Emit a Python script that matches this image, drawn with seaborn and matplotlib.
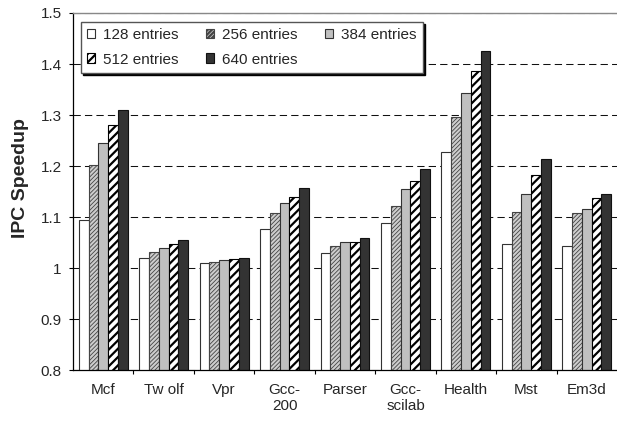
import matplotlib
matplotlib.use("Agg")
import matplotlib.pyplot as plt
from matplotlib.ticker import FixedLocator, FuncFormatter
import pandas as pd
import seaborn as sns

# Benchmarks and IPC speedup per table size
benchmarks = ["Mcf", "Tw olf", "Vpr", "Gcc-\n200", "Parser", "Gcc-\nscilab",
              "Health", "Mst", "Em3d"]
sizes = ["128 entries", "256 entries", "384 entries", "512 entries", "640 entries"]
speedup_128 = [1.095, 1.020, 1.009, 1.076, 1.029, 1.088, 1.227, 1.048, 1.043]
speedup_256 = [1.202, 1.031, 1.012, 1.108, 1.043, 1.122, 1.297, 1.110, 1.107]
speedup_384 = [1.246, 1.040, 1.015, 1.127, 1.051, 1.154, 1.344, 1.146, 1.116]
speedup_512 = [1.280, 1.048, 1.018, 1.140, 1.051, 1.171, 1.386, 1.183, 1.138]
speedup_640 = [1.310, 1.055, 1.020, 1.157, 1.059, 1.194, 1.425, 1.213, 1.146]
y_ticks = [0.8, 0.9, 1.0, 1.1, 1.2, 1.3, 1.4, 1.5]

series = [speedup_128, speedup_256, speedup_384, speedup_512, speedup_640]
rows = []
for size, vals in zip(sizes, series):
    for b, v in zip(benchmarks, vals):
        rows.append({"bench": b, "size": size, "speedup": v})
df = pd.DataFrame(rows)

sns.set_style("white")
plt.rcParams["font.family"] = ["Liberation Sans", "DejaVu Sans"]
plt.rcParams["hatch.linewidth"] = 1.6

face = ["#ffffff", "#cdcdcd", "#c0c0c0", "#ffffff", "#333333"]
edge = ["#333333", "#444444", "#333333", "#000000", "#111111"]
hatch = [None, "////////", None, "////", None]

fig = plt.figure(figsize=(6.17, 4.23), dpi=100)
ax = fig.add_axes([73 / 617, 53 / 423, 544 / 617, 357 / 423])

sns.barplot(data=df, x="bench", y="speedup", hue="size", hue_order=sizes,
            palette=face, width=0.81, saturation=1, legend=False, ax=ax)

for i, cont in enumerate(ax.containers):
    for p in cont.patches:
        p.set_facecolor(face[i])
        p.set_edgecolor(edge[i])
        p.set_linewidth(0.8)
        if hatch[i]:
            p.set_hatch(hatch[i])
            if i == 1 and hasattr(p, "set_hatch_linewidth"):
                p.set_hatch_linewidth(0.6)

ax.set_ylim(0.8, 1.5)
ax.set_xlim(-0.5, len(benchmarks) - 0.5)
ax.yaxis.set_major_locator(FixedLocator(y_ticks))
ax.yaxis.set_major_formatter(FuncFormatter(lambda v, _: f"{v:g}"))
ax.set_axisbelow(True)
ax.grid(axis="y", color="#111111", linewidth=0.75, linestyle=(0, (7, 4)))

ax.set_xlabel("")
ax.set_ylabel("IPC Speedup", fontsize=14, fontweight="bold")
ax.yaxis.set_label_coords(-0.081, 0.538)

ax.tick_params(axis="y", which="major", direction="out", length=3.2, width=0.8,
               pad=5, labelsize=11, left=True, color="black")
ax.tick_params(axis="x", which="major", length=0, pad=9.4, labelsize=11)
ax.xaxis.set_minor_locator(FixedLocator([k + 0.5 for k in range(len(benchmarks) - 1)]))
ax.tick_params(axis="x", which="minor", direction="out", length=3, width=0.8,
               bottom=True, color="black")

for s in ["left", "bottom"]:
    ax.spines[s].set_color("black")
    ax.spines[s].set_linewidth(0.9)
ax.spines["right"].set_visible(False)
ax.spines["top"].set_visible(True)
ax.spines["top"].set_color("#888888")
ax.spines["top"].set_linewidth(1.0)

# legend fills column by column, so order entries to read row by row
order = [0, 3, 1, 4, 2]
handles = [ax.containers[k].patches[0] for k in order]
labels = [sizes[k] for k in order]
leg = ax.legend(handles, labels, ncol=3, fontsize=11, loc="upper left",
                bbox_to_anchor=(80.7 / 617, 1 - 21.7 / 423),
                bbox_transform=fig.transFigure, borderaxespad=0,
                handlelength=0.55, handleheight=0.55, handletextpad=0.5,
                columnspacing=1.8, labelspacing=0.7, borderpad=0.4,
                frameon=True, fancybox=False, framealpha=1,
                shadow={"color": "black", "alpha": 1})
leg.get_frame().set_edgecolor("#555555")
leg.get_frame().set_linewidth(1.0)

fig.savefig("out.png", dpi=100)
